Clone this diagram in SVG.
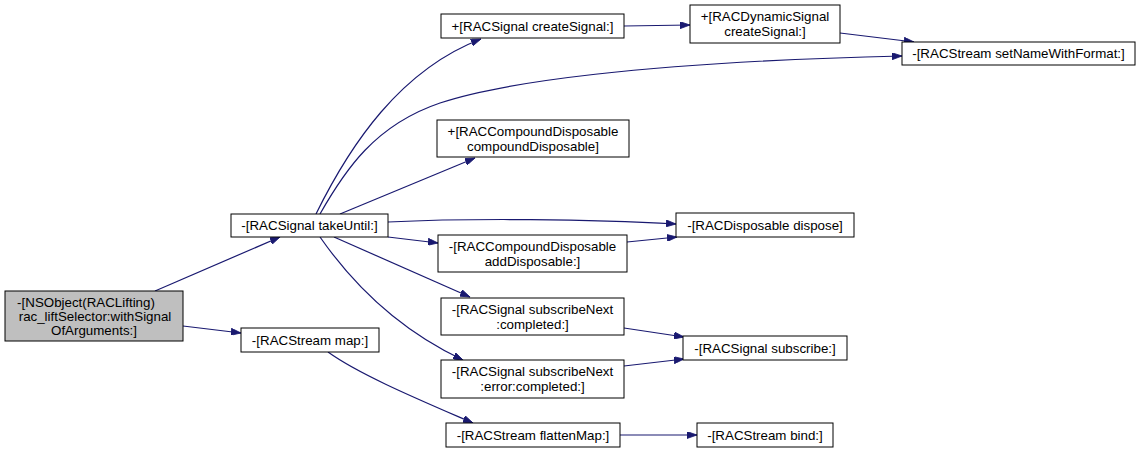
<svg xmlns="http://www.w3.org/2000/svg" width="1141" height="453" viewBox="0 0 1141 453">
<style>
.n rect{fill:#fff;stroke:#000;stroke-width:1}
.n text{font-family:"Liberation Sans",Arial,sans-serif;font-size:13.33px;text-anchor:middle;fill:#000}
.e path{fill:none;stroke:#191970;stroke-width:1.2}
</style>
<defs>
<marker id="ah" viewBox="0 0 10 7" refX="10" refY="3.5" markerWidth="10" markerHeight="7" markerUnits="userSpaceOnUse" orient="auto">
<path d="M0,0 L10,3.5 L0,7 z" fill="#191970" stroke="#191970" stroke-width="0.8"/>
</marker>
</defs>
<rect width="1141" height="453" fill="#fff"/>
<g id="edges" class="e">
<path marker-end="url(#ah)" d="M155,291 L280,237"/>
<path marker-end="url(#ah)" d="M183,326 L241,333"/>
<path marker-end="url(#ah)" d="M316,214 C350,145 400,70 481,39"/>
<path marker-end="url(#ah)" d="M320,214 C345,170 375,125 440,103 C500,83 640,62 902,56"/>
<path marker-end="url(#ah)" d="M340,214 L475,158"/>
<path marker-end="url(#ah)" d="M388,222 C470,218 590,219 676,224"/>
<path marker-end="url(#ah)" d="M388,237 L438,243"/>
<path marker-end="url(#ah)" d="M334,237 L470,297"/>
<path marker-end="url(#ah)" d="M320,237 C350,280 395,328 463,360"/>
<path marker-end="url(#ah)" d="M328,352 C360,375 420,400 473,423"/>
<path marker-end="url(#ah)" d="M624,26 L690,25"/>
<path marker-end="url(#ah)" d="M840,33 L914,42"/>
<path marker-end="url(#ah)" d="M627,242 L677,237"/>
<path marker-end="url(#ah)" d="M624,328 L684,337"/>
<path marker-end="url(#ah)" d="M624,366 L684,359"/>
<path marker-end="url(#ah)" d="M620,435 L697,435"/>
</g>
<g id="root" class="n"><rect x="5" y="291" width="178" height="50" style="fill:#bfbfbf"/><text x="86" y="307">-[NSObject(RACLifting)</text><text x="95" y="321">rac_liftSelector:withSignal</text><text x="94" y="335">OfArguments:]</text></g>
<g id="takeUntil" class="n"><rect x="231" y="214" width="157" height="23"/><text x="309.5" y="230">-[RACSignal takeUntil:]</text></g>
<g id="map" class="n"><rect x="241" y="328" width="138" height="24"/><text x="310" y="344.5">-[RACStream map:]</text></g>
<g id="createSignal" class="n"><rect x="441" y="14" width="183" height="24"/><text x="532.5" y="30.5">+[RACSignal createSignal:]</text></g>
<g id="dynCreateSignal" class="n"><rect x="690" y="5" width="150" height="38"/><text x="765" y="21">+[RACDynamicSignal</text><text x="765" y="36">createSignal:]</text></g>
<g id="setName" class="n"><rect x="902" y="42" width="233" height="23"/><text x="1018.5" y="58">-[RACStream setNameWithFormat:]</text></g>
<g id="compoundDisposable" class="n"><rect x="437" y="120" width="192" height="37"/><text x="533" y="136">+[RACCompoundDisposable</text><text x="533" y="151">compoundDisposable]</text></g>
<g id="dispose" class="n"><rect x="676" y="213" width="178" height="24"/><text x="765" y="229.5">-[RACDisposable dispose]</text></g>
<g id="addDisposable" class="n"><rect x="438" y="235" width="189" height="37"/><text x="532.5" y="251">-[RACCompoundDisposable</text><text x="532.5" y="266">addDisposable:]</text></g>
<g id="subNextCompleted" class="n"><rect x="441" y="298" width="183" height="37"/><text x="532.5" y="314">-[RACSignal subscribeNext</text><text x="532.5" y="329">:completed:]</text></g>
<g id="subNextErrorCompleted" class="n"><rect x="441" y="360" width="183" height="38"/><text x="532.5" y="376">-[RACSignal subscribeNext</text><text x="532.5" y="391">:error:completed:]</text></g>
<g id="subscribe" class="n"><rect x="683" y="336" width="164" height="24"/><text x="765" y="352.5">-[RACSignal subscribe:]</text></g>
<g id="flattenMap" class="n"><rect x="446" y="423" width="174" height="24"/><text x="533" y="439.5">-[RACStream flattenMap:]</text></g>
<g id="bind" class="n"><rect x="697" y="423" width="136" height="24"/><text x="765" y="439.5">-[RACStream bind:]</text></g>
</svg>
